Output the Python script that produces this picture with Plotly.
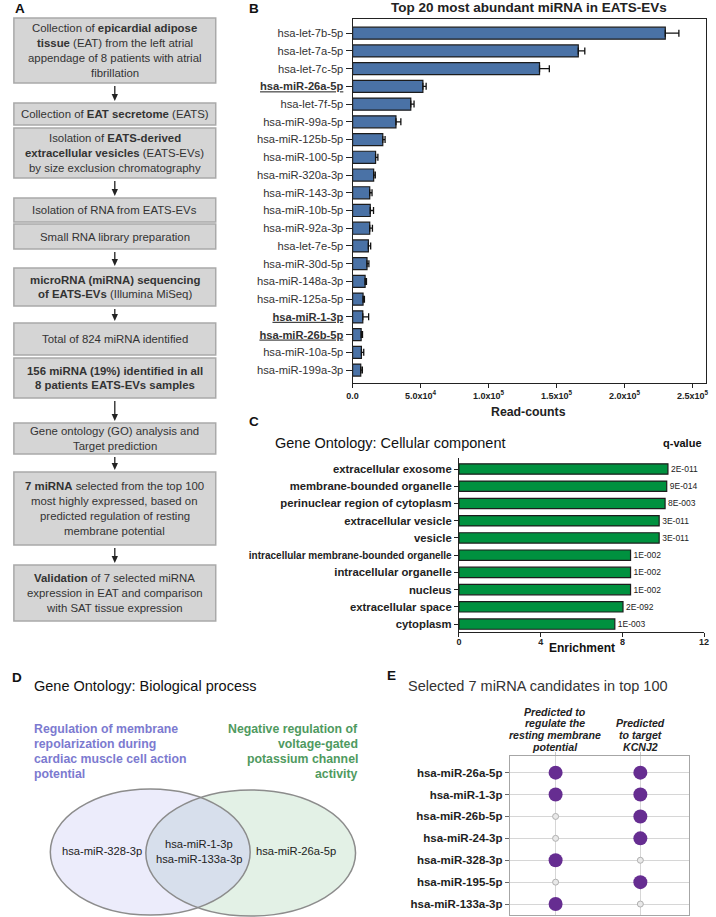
import numpy as np
import plotly.graph_objects as go

W, H = 716, 917
FONT = "Liberation Sans, Arial, Helvetica, sans-serif"


def px(x):
    return x / W


def py(y):
    return 1 - y / H


# ---------------- Data ----------------
# Panel B: top 20 most abundant miRNA (read counts, mean + SEM)
b_mirna = ["hsa-let-7b-5p", "hsa-let-7a-5p", "hsa-let-7c-5p", "hsa-miR-26a-5p", "hsa-let-7f-5p",
           "hsa-miR-99a-5p", "hsa-miR-125b-5p", "hsa-miR-100-5p", "hsa-miR-320a-3p", "hsa-miR-143-3p",
           "hsa-miR-10b-5p", "hsa-miR-92a-3p", "hsa-let-7e-5p", "hsa-miR-30d-5p", "hsa-miR-148a-3p",
           "hsa-miR-125a-5p", "hsa-miR-1-3p", "hsa-miR-26b-5p", "hsa-miR-10a-5p", "hsa-miR-199a-3p"]
b_counts = [230000, 166000, 137500, 51700, 42800, 31900, 22200, 16900, 15500, 12600,
            13000, 12600, 11600, 10600, 9200, 7700, 7500, 6300, 6500, 6000]
b_sem = [10000, 4800, 7200, 2400, 2400, 3600, 1700, 1700, 1200, 1700,
         2400, 2000, 1700, 1400, 1000, 1000, 4300, 1000, 1700, 1200]
b_highlight = ["hsa-miR-26a-5p", "hsa-miR-1-3p", "hsa-miR-26b-5p"]
b_tickvals = [0, 50000, 100000, 150000, 200000, 250000]
b_ticktext = ["0.0", "5.0x10<sup>4</sup>", "1.0x10<sup>5</sup>", "1.5x10<sup>5</sup>",
              "2.0x10<sup>5</sup>", "2.5x10<sup>5</sup>"]

# Panel C: GO cellular component
c_terms = ["extracellular exosome", "membrane-bounded organelle", "perinuclear region of cytoplasm",
           "extracellular vesicle", "vesicle", "intracellular membrane-bounded organelle",
           "intracellular organelle", "nucleus", "extracellular space", "cytoplasm"]
c_enrich = [10.23, 10.17, 10.09, 9.8, 9.8, 8.4, 8.4, 8.4, 8.03, 7.63]
c_q = ["2E-011", "9E-014", "8E-003", "3E-011", "3E-011", "1E-002", "1E-002", "1E-002", "2E-092", "1E-003"]
c_tickvals = [0, 4, 8, 12]

# Panel D: Venn sets
d_left_title = ["Regulation of membrane", "repolarization during", "cardiac muscle cell action", "potential"]
d_right_title = ["Negative regulation of", "voltage-gated", "potassium channel", "activity"]
d_left_only = ["hsa-miR-328-3p"]
d_both = ["hsa-miR-1-3p", "hsa-miR-133a-3p"]
d_right_only = ["hsa-miR-26a-5p"]

# Panel E: selected candidates
e_mirna = ["hsa-miR-26a-5p", "hsa-miR-1-3p", "hsa-miR-26b-5p", "hsa-miR-24-3p",
           "hsa-miR-328-3p", "hsa-miR-195-5p", "hsa-miR-133a-3p"]
e_col_lines = [["Predicted to", "regulate the", "resting membrane", "potential"],
               ["Predicted", "to target", "KCNJ2"]]
e_rmp = [1, 1, 0, 0, 1, 0, 1]
e_kcnj2 = [1, 1, 1, 1, 0, 1, 0]

# Panel A: flowchart steps
a_steps = [
    ["Collection of <b>epicardial adipose</b>", "<b>tissue</b> (EAT) from the left atrial",
     "appendage of 8 patients with atrial", "fibrillation"],
    ["Collection of <b>EAT secretome</b> (EATS)"],
    ["Isolation of <b>EATS-derived</b>", "<b>extracellular vesicles</b> (EATS-EVs)",
     "by size exclusion chromatography"],
    ["Isolation of RNA from EATS-EVs"],
    ["Small RNA library preparation"],
    ["<b>microRNA (miRNA) sequencing</b>", "<b>of EATS-EVs</b> (Illumina MiSeq)"],
    ["Total of 824 miRNA identified"],
    ["<b>156 miRNA (19%) identified in all</b>", "<b>8 patients EATS-EVs samples</b>"],
    ["Gene ontology (GO) analysis and", "Target prediction"],
    ["<b>7 miRNA</b> selected from the top 100", "most highly expressed, based on",
     "predicted regulation of resting", "membrane potential"],
    ["<b>Validation</b> of 7 selected miRNA", "expression in EAT and comparison",
     "with SAT tissue expression"],
]

# ---------------- Layout helpers ----------------
annotations = []
shapes = []


def txt(x, y, text, size, color="#222", xanchor="center", yanchor="middle"):
    annotations.append(dict(x=px(x), y=py(y), xref="paper", yref="paper", text=text,
                            showarrow=False, xanchor=xanchor, yanchor=yanchor,
                            font=dict(family=FONT, size=size, color=color)))


def lines(x, ys, texts, size, color="#222", xanchor="center"):
    for yy, t in zip(ys, texts):
        txt(x, yy, t, size, color, xanchor)


# ---------------- Panel A ----------------
box_pos = [(18, 83), (103, 125), (128, 178), (198, 222), (224, 249), (268, 306),
           (323, 355), (358, 398), (423, 454), (472, 545), (565, 621)]
bx0, bx1 = 8, 213
bxc = (bx0 + bx1) / 2
for (t, b), step in zip(box_pos, a_steps):
    shapes.append(dict(type="rect", xref="paper", yref="paper", x0=px(bx0), x1=px(bx1),
                       y0=py(b), y1=py(t), fillcolor="#d5d5d5",
                       line=dict(color="#a9a9a9", width=1.5), layer="below"))
    n = len(step)
    dy = 14.8
    c = (t + b) / 2
    ys = [c + (i - (n - 1) / 2) * dy for i in range(n)]
    lines(bxc, ys, step, 11.4, "#333")
for (t0, b0), (t1, b1) in zip(box_pos[:-1], box_pos[1:]):
    if t1 - b0 > 8:
        shapes.append(dict(type="line", xref="paper", yref="paper", x0=px(bxc), x1=px(bxc),
                           y0=py(b0 + 3), y1=py(t1 - 7), line=dict(color="#222", width=1.3)))
        tip = t1 - 2
        shapes.append(dict(type="path", xref="paper", yref="paper",
                           path="M %.5f,%.5f L %.5f,%.5f L %.5f,%.5f Z" % (
                               px(bxc - 3.2), py(tip - 7), px(bxc + 3.2), py(tip - 7),
                               px(bxc), py(tip)),
                           fillcolor="#222", line=dict(width=0)))

# ---------------- Panel letters & titles ----------------
txt(7, 9, "<b>A</b>", 13.5, "#111", "left")
txt(245, 9, "<b>B</b>", 13.5, "#111", "left")
txt(245, 421, "<b>C</b>", 13.5, "#111", "left")
txt(4, 677, "<b>D</b>", 13.5, "#111", "left")
txt(385, 675, "<b>E</b>", 13.5, "#111", "left")

txt(531, 8, "<b>Top 20 most abundant miRNA in EATS-EVs</b>", 13.5, "#222")
txt(531, 412, "<b>Read-counts</b>", 12.3, "#222")
txt(271, 443, "Gene Ontology: Cellular component", 14.5, "#111", "left")
txt(709, 443, "<b>q-value</b>", 11, "#111", "right")
txt(585, 648, "<b>Enrichment</b>", 12, "#111")
txt(26, 686, "Gene Ontology: Biological process", 14.5, "#111", "left")
txt(406, 686, "Selected 7 miRNA candidates in top 100", 14.5, "#333", "left")

# ---------------- Panel D (Venn) ----------------
lines(26, [729, 744, 759, 774], ["<b>%s</b>" % s for s in d_left_title], 12.3, "#7c7ad0", "left")
lines(360, [729, 744, 759, 774], ["<b>%s</b>" % s for s in d_right_title], 12.3, "#4f9a60", "right")

L = dict(cx=146.5, cy=852, rx=101.5, ry=63)
R = dict(cx=248.5, cy=853, rx=106.5, ry=63)
for e, fc in ((L, "#ececfb"), (R, "#e3f1e6")):
    shapes.append(dict(type="circle", xref="paper", yref="paper",
                       x0=px(e["cx"] - e["rx"]), x1=px(e["cx"] + e["rx"]),
                       y0=py(e["cy"] + e["ry"]), y1=py(e["cy"] - e["ry"]),
                       fillcolor=fc, line=dict(width=0), layer="below"))


def inside(e, x, y):
    return ((x - e["cx"]) / e["rx"]) ** 2 + ((y - e["cy"]) / e["ry"]) ** 2 <= 1.0


th = np.linspace(-np.pi / 2, np.pi / 2, 400)
lx = L["cx"] + L["rx"] * np.cos(th)
ly = L["cy"] + L["ry"] * np.sin(th)
m1 = inside(R, lx, ly)
th2 = np.linspace(np.pi / 2, 3 * np.pi / 2, 400)
rx_ = R["cx"] + R["rx"] * np.cos(th2)
ry_ = R["cy"] + R["ry"] * np.sin(th2)
m2 = inside(L, rx_, ry_)
pts = list(zip(lx[m1], ly[m1])) + list(zip(rx_[m2], ry_[m2]))
path = "M " + " L ".join("%.5f,%.5f" % (px(x), py(y)) for x, y in pts) + " Z"
shapes.append(dict(type="path", xref="paper", yref="paper", path=path,
                   fillcolor="#d7dfec", line=dict(width=0), layer="below"))
for e in (L, R):
    shapes.append(dict(type="circle", xref="paper", yref="paper",
                       x0=px(e["cx"] - e["rx"]), x1=px(e["cx"] + e["rx"]),
                       y0=py(e["cy"] + e["ry"]), y1=py(e["cy"] - e["ry"]),
                       fillcolor="rgba(0,0,0,0)", line=dict(color="#8c8c8c", width=1.5),
                       layer="below"))

lines(97, [851], d_left_only, 11.2, "#222")
lines(196, [844, 859], d_both, 11.2, "#222")
lines(295, [851], d_right_only, 11.2, "#222")

# ---------------- Panel E headers ----------------
e_col_x = [558, 644]
for cx, ls in zip(e_col_x, e_col_lines):
    n = len(ls)
    ys = [747 - (n - 1 - i) * 11.8 for i in range(n)]
    lines(cx, ys, ["<b><i>%s</i></b>" % s for s in ls], 10.6, "#222")

# ---------------- Traces ----------------
fig = go.Figure()

b_ticktext_y = ["<b><u>%s</u></b>" % m if m in b_highlight else m for m in b_mirna]
fig.add_trace(go.Bar(
    x=b_counts, y=b_mirna, orientation="h", xaxis="x", yaxis="y", width=0.68,
    marker=dict(color="#4a72a6", line=dict(color="#1c1c1c", width=1.2)),
    error_x=dict(type="data", symmetric=False, array=b_sem, arrayminus=[0] * len(b_sem),
                 color="#111", thickness=1.3, width=3.5),
    showlegend=False, hoverinfo="x+y"))

fig.add_trace(go.Bar(
    x=c_enrich, y=c_terms, orientation="h", xaxis="x2", yaxis="y2", width=0.6,
    marker=dict(color="#00913f", line=dict(color="#1c1c1c", width=1.2)),
    text=c_q, textposition="outside", constraintext="none", cliponaxis=False,
    textfont=dict(family=FONT, size=8.5, color="#222"),
    showlegend=False))

yes_x, yes_y, no_x, no_y = [], [], [], []
for ci, flags in enumerate((e_rmp, e_kcnj2)):
    for m, f in zip(e_mirna, flags):
        (yes_x if f else no_x).append(ci)
        (yes_y if f else no_y).append(m)
fig.add_trace(go.Scatter(x=no_x, y=no_y, mode="markers", xaxis="x3", yaxis="y3",
                         marker=dict(size=6, color="#e9e9e9", line=dict(color="#b0b0b0", width=1)),
                         showlegend=False, cliponaxis=False))
fig.add_trace(go.Scatter(x=yes_x, y=yes_y, mode="markers", xaxis="x3", yaxis="y3",
                         marker=dict(size=14, color="#662d91", line=dict(width=0)),
                         showlegend=False, cliponaxis=False))

c_ticktext = ["<b>%s</b>" % t if len(t) < 35 else "<b><span style='font-size:10px'>%s</span></b>" % t
              for t in c_terms]

fig.update_layout(
    width=W, height=H, autosize=False,
    margin=dict(l=0, r=0, t=0, b=0),
    paper_bgcolor="white", plot_bgcolor="white",
    font=dict(family=FONT, color="#222"),
    xaxis=dict(domain=[px(352), px(711)], anchor="y", range=[0, 260000],
               tickvals=b_tickvals, ticktext=["<b>%s</b>" % t for t in b_ticktext],
               tickfont=dict(size=9, color="#222"), ticks="outside", ticklen=4,
               tickcolor="#222", showline=True, mirror=True, linecolor="#222", linewidth=1,
               showgrid=False, zeroline=False),
    yaxis=dict(domain=[py(383), py(19)], anchor="x", type="category",
               categoryorder="array", categoryarray=b_mirna, range=[19.73, -0.8],
               tickvals=b_mirna, ticktext=b_ticktext_y,
               tickfont=dict(size=11.2, color="#333"), ticks="outside", ticklen=6,
               tickcolor="#222", showline=True, mirror=True, linecolor="#222", linewidth=1,
               showgrid=False, zeroline=False),
    xaxis2=dict(domain=[px(460), px(709)], anchor="y2", range=[0, 12],
                tickvals=c_tickvals, ticktext=["<b>%d</b>" % v for v in c_tickvals],
                tickfont=dict(size=9, color="#222"), ticks="outside", ticklen=4,
                ticklabelstandoff=-3,
                tickcolor="#222", showline=True, linecolor="#222", linewidth=1,
                showgrid=False, zeroline=False),
    yaxis2=dict(domain=[py(632), py(458)], anchor="x2", type="category",
                categoryorder="array", categoryarray=c_terms, range=[9.46, -0.64],
                tickvals=c_terms, ticktext=c_ticktext,
                tickfont=dict(size=11.3, color="#222"), ticks="outside", ticklen=4,
                tickcolor="#222", showline=True, linecolor="#222", linewidth=1,
                showgrid=False, zeroline=False),
    xaxis3=dict(domain=[px(511.7), px(693.3)], anchor="y3", range=[-0.54, 1.57],
                tickvals=[0, 1], showticklabels=False, side="top", ticks="outside",
                ticklen=3, tickcolor="#c8c8c8", showgrid=True, gridcolor="#d6d6d6",
                showline=True, mirror=True, linecolor="#a6a6a6", linewidth=1, zeroline=False),
    yaxis3=dict(domain=[py(915), py(756)], anchor="x3", type="category",
                categoryorder="array", categoryarray=e_mirna, range=[6.5, -0.76],
                tickvals=e_mirna, ticktext=["<b>%s</b>" % m for m in e_mirna],
                tickfont=dict(size=11.5, color="#222"), ticks="outside", ticklen=4,
                tickcolor="#666", showgrid=True, gridcolor="#d6d6d6",
                showline=True, mirror=True, linecolor="#a6a6a6", linewidth=1, zeroline=False),
    annotations=annotations,
    shapes=shapes,
)

fig.write_html("out.html", config={"displayModeBar": False},
               post_script="document.body.style.margin='0';document.body.style.overflow='hidden';")
